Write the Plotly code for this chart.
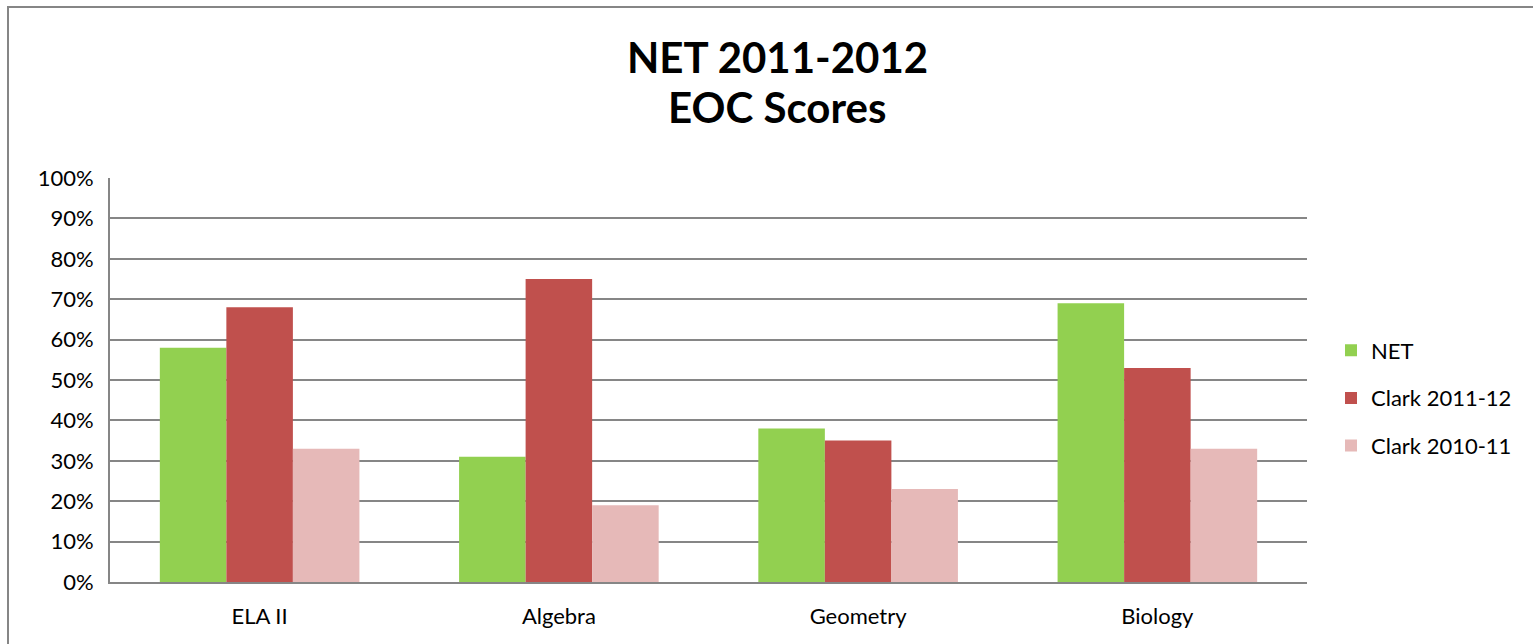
import plotly.graph_objects as go

# EOC pass rates by subject (percent)
subjects = ["ELA II", "Algebra", "Geometry", "Biology"]
net_2011_12 = [58, 31, 38, 69]
clark_2011_12 = [68, 75, 35, 53]
clark_2010_11 = [33, 19, 23, 33]

series = [
    ("NET", net_2011_12, "#92D050"),
    ("Clark 2011-12", clark_2011_12, "#C0504D"),
    ("Clark 2010-11", clark_2010_11, "#E6B9B8"),
]

title_lines = ["NET 2011-2012", "EOC Scores"]

FONT = "Lato, 'Open Sans', sans-serif"

fig = go.Figure()
for name, vals, color in series:
    fig.add_trace(go.Bar(
        name=name,
        x=subjects,
        y=vals,
        marker=dict(color=color, line=dict(width=0)),
        legendgroup=name,
        hovertemplate="%{x}: %{y}%<extra>" + name + "</extra>",
    ))

W, H = 1533, 644
L, R, T, B = 110, 226, 178, 62
plot_w = W - L - R
plot_h = H - T - B


def px_x(px):
    """Horizontal pixel position -> paper fraction."""
    return (px - L) / plot_w


def px_y(px):
    """Vertical pixel position (from top) -> paper fraction."""
    return (H - B - px) / plot_h


fig.update_layout(
    width=W,
    height=H,
    margin=dict(l=L, r=R, t=T, b=B, autoexpand=False),
    paper_bgcolor="white",
    plot_bgcolor="white",
    barmode="group",
    bargap=0.333,
    bargroupgap=0,
    font=dict(family=FONT, size=22, color="#000000"),
    legend=dict(
        x=px_x(1331),
        xanchor="left",
        y=px_y(398),
        yanchor="middle",
        traceorder="grouped",
        tracegroupgap=16,
        font=dict(family=FONT, size=22),
        itemwidth=30,
        bgcolor="rgba(0,0,0,0)",
    ),
    xaxis=dict(
        showgrid=False,
        showline=True,
        linecolor="#868686",
        linewidth=2,
        ticks="",
        tickfont=dict(family=FONT, size=22),
        ticklabelstandoff=14,
    ),
    yaxis=dict(
        range=[0, 100],
        tickvals=list(range(0, 101, 10)),
        ticktext=[f"{v}%" for v in range(0, 101, 10)],
        showgrid=True,
        gridcolor="#868686",
        gridwidth=2,
        showline=True,
        linecolor="#868686",
        linewidth=2,
        ticks="",
        zeroline=False,
        tickfont=dict(family=FONT, size=22),
        ticklabelstandoff=10,
    ),
    showlegend=True,
)

# Two-line chart title
for text, y_px in zip(title_lines, [57, 107]):
    fig.add_annotation(
        text=f"<b>{text}</b>",
        xref="paper", yref="paper",
        x=px_x(777), y=px_y(y_px),
        xanchor="center", yanchor="middle",
        showarrow=False,
        font=dict(family=FONT, size=42, color="#000000"),
    )

# Outer chart frame (left and top edges visible)
fig.add_shape(
    type="rect",
    xref="paper", yref="paper",
    x0=px_x(8), x1=px_x(W + 20),
    y0=px_y(H + 20), y1=px_y(7),
    line=dict(color="#868686", width=2),
    fillcolor="rgba(0,0,0,0)",
    layer="below",
)

fig.write_html("out.html")
